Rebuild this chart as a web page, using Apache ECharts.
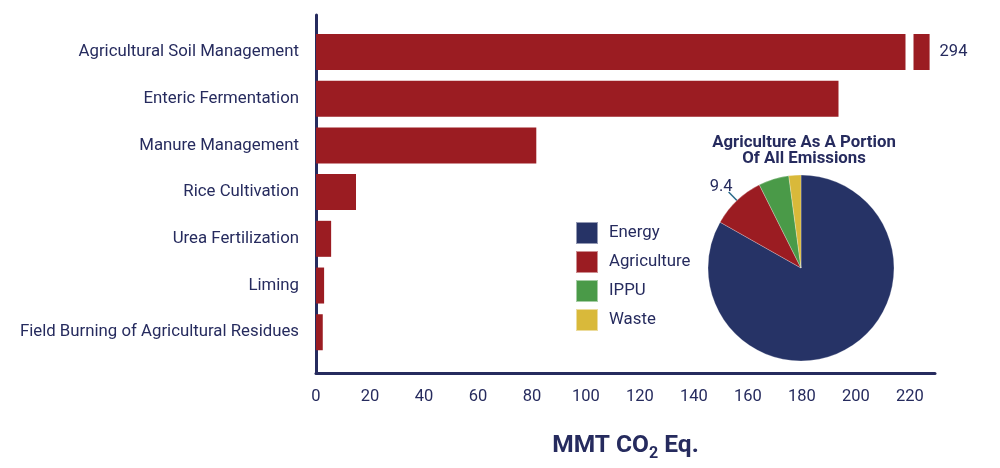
<!DOCTYPE html>
<html><head><meta charset="utf-8">
<script src="https://cdn.jsdelivr.net/npm/echarts@6/dist/echarts.min.js"></script>
<style>html,body{margin:0;padding:0;background:#fff}#c{width:1000px;height:468px}</style>
</head><body><div id="c"></div>
<script>
const categories = ['Agricultural Soil Management','Enteric Fermentation','Manure Management','Rice Cultivation','Urea Fertilization','Liming','Field Burning of Agricultural Residues'];
const values = [294, 193.3, 81.5, 14.8, 5.6, 3.0, 2.5];
const xTicks = [0,20,40,60,80,100,120,140,160,180,200,220];
const pieNames = ['Energy','Agriculture','IPPU','Waste'];
const pieValues = [83.2, 9.4, 5.3, 2.1];

const NAVY = '#262b5e';
const RED = '#9b1c22';
const pieColors = ['#263366', '#9b1c22', '#4a9a48', '#d9b93a'];
const FONT = 'Roboto';

const chart = echarts.init(document.getElementById('c'));
chart.setOption({
  animation: false,
  textStyle: {fontFamily: FONT},
  title: {
    text: 'Agriculture As A Portion\nOf All Emissions',
    left: 799, top: 130, textAlign: 'center',
    textStyle: {color: NAVY, fontSize: 16.8, fontWeight: 'bold', lineHeight: 16, fontFamily: FONT}
  },
  legend: {
    orient: 'vertical', left: 570, top: 216,
    itemWidth: 22, itemHeight: 22, itemGap: 5,
    icon: 'rect',
    textStyle: {color: NAVY, fontSize: 16.8, lineHeight: 22, fontFamily: FONT, padding: [0,0,0,6]},
    data: pieNames
  },
  grid: [
    {left: 316, right: 65, top: 28.6, height: 327, containLabel: false},
    {left: 316, right: 65, top: 15, bottom: 95, containLabel: false}
  ],
  xAxis: [
    {type: 'value', gridIndex: 0, min: 0, max: 296,
     breaks: [{start: 218, end: 288, gap: 3}],
     breakArea: {show: true, itemStyle: {color: '#fff', opacity: 1, borderWidth: 0, borderColor: '#fff'}, zigzagAmplitude: 0, expandOnClick: false},
     axisLine: {show: false}, axisTick: {show: false}, axisLabel: {show: false}, splitLine: {show: false}},
    {type: 'value', gridIndex: 1, min: 0, max: 229.3, interval: 20,
     axisLine: {show: true, lineStyle: {color: NAVY, width: 3}},
     axisTick: {show: false}, splitLine: {show: false},
     axisLabel: {color: NAVY, fontSize: 16.5, margin: 15, fontFamily: FONT,
       formatter: v => xTicks.indexOf(v) >= 0 ? String(v) : ''},
     name: 'MMT CO{sub|2} Eq.', nameLocation: 'middle', nameGap: 57,
     nameTextStyle: {color: NAVY, fontSize: 24.5, fontWeight: 'bold', fontFamily: FONT,
       rich: {sub: {fontSize: 16, fontWeight: 'bold', color: NAVY, fontFamily: FONT, padding: [16,0,0,0]}}}
    }
  ],
  yAxis: [
    {type: 'category', gridIndex: 0, data: categories, inverse: true,
     axisLine: {show: false}, axisTick: {show: false},
     axisLabel: {color: NAVY, fontSize: 16.8, margin: 17, fontFamily: FONT}},
    {type: 'value', gridIndex: 1, min: 0, max: 1,
     axisLine: {show: true, lineStyle: {color: NAVY, width: 3}},
     axisTick: {show: false}, axisLabel: {show: false}, splitLine: {show: false}}
  ],
  series: [
    {type: 'bar', xAxisIndex: 0, yAxisIndex: 0, data: values, barWidth: 36,
     itemStyle: {color: RED},
     label: {show: true, position: 'right', distance: 10, color: NAVY, fontSize: 16.5, fontFamily: FONT,
       formatter: p => p.dataIndex === 0 ? String(p.value) : ''}},
    {type: 'pie', center: [801, 268], radius: 93, startAngle: 90, clockwise: true,
     data: pieNames.map((n, i) => ({name: n, value: pieValues[i],
       itemStyle: {color: pieColors[i]},
       label: {show: n === 'Agriculture'},
       labelLine: {show: n === 'Agriculture'}})),
     itemStyle: {borderColor: 'rgba(255,255,255,0.5)', borderWidth: 0.5},
     label: {position: 'outside', color: NAVY, fontSize: 16.5, fontFamily: FONT, distanceToLabelLine: 2,
       formatter: p => String(p.value)},
     labelLine: {length: 12, length2: 0, lineStyle: {color: '#2a6a8a', width: 1.5}},
     labelLayout: {dx: 6, dy: -5},
     emphasis: {disabled: true}
    }
  ]
});
</script></body></html>
